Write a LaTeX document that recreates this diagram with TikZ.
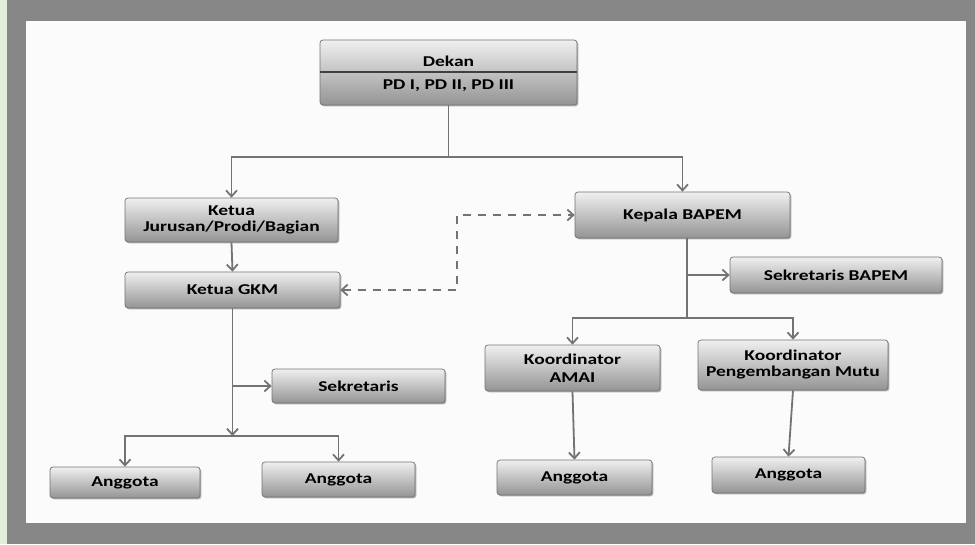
\documentclass[tikz,border=0pt]{standalone}
\usepackage{fontspec}
\newfontfamily\boxfont{Carlito}[FakeStretch=1.3]
\usetikzlibrary{arrows.meta,shadows}
\definecolor{frame}{HTML}{878787}
\definecolor{leaf}{HTML}{E2EFDA}
\definecolor{paper}{HTML}{FBFBFB}
\begin{document}
\begin{tikzpicture}[x=1pt,y=-1pt,
  box/.style={draw=black!55, line width=0.7pt, rounded corners=3pt,
    top color=black!6, bottom color=black!42, text=black,
    font=\boxfont\bfseries\fontsize{15}{17}\selectfont,
    align=center, inner sep=0pt,
    drop shadow={shadow xshift=1.4pt, shadow yshift=-1.4pt, fill=black!50, opacity=0.6}},
  lbl/.style={text=black, font=\boxfont\bfseries\fontsize{15}{17}\selectfont, inner sep=0pt},
  wire/.style={draw=black!55, line width=1.8pt},
  arr/.style={wire, -{Straight Barb[length=6pt,width=11pt]}},
  darr/.style={wire, dash pattern=on 8pt off 7pt, {Straight Barb[length=6pt,width=11pt]}-{Straight Barb[length=6pt,width=11pt]}}]

% page frame
\useasboundingbox (0,0) rectangle (975,544);
\fill[frame] (0,0) rectangle (975,544);
\fill[leaf] (0,0) rectangle (7,544);
\fill[paper] (26,21) rectangle (966,523);

% boxes
\node[box, minimum width=257pt, minimum height=65pt] (dekan) at (448.5,72.5) {};
\coordinate (divy) at (0,72);
\draw[black!75, line width=1.8pt] (dekan.west |- divy) -- (dekan.east |- divy);
\node[lbl] (dekant) at (448.5,61) {Dekan};
\node[lbl] (pdt) at (448.5,86) {PD I, PD II, PD III};

\node[box, minimum width=213pt, minimum height=44pt] (kj) at (231.5,220) {Ketua\\[-1pt]Jurusan/Prodi/Bagian};
\node[box, minimum width=215pt, minimum height=36pt] (gkm) at (232.5,290) {Ketua GKM};
\node[box, minimum width=215pt, minimum height=46pt] (kb) at (682.5,215) {Kepala BAPEM};
\node[box, minimum width=212pt, minimum height=36pt] (sb) at (836,275) {Sekretaris BAPEM};
\node[box, minimum width=173pt, minimum height=34pt] (sek) at (358.5,386) {Sekretaris};
\node[box, minimum width=150pt, minimum height=31pt] (a1) at (125,482.5) {Anggota};
\node[box, minimum width=153pt, minimum height=35pt] (a2) at (338.5,479.5) {Anggota};
\node[box, minimum width=175pt, minimum height=46pt] (ka) at (572.5,368) {Koordinator\\[1pt]AMAI};
\node[box, minimum width=190pt, minimum height=50pt] (kpm) at (793,365) {Koordinator\\[-1pt]Pengembangan Mutu};
\node[box, minimum width=155pt, minimum height=35pt] (a3) at (574.5,477.5) {Anggota};
\node[box, minimum width=153pt, minimum height=36pt] (a4) at (788.5,475) {Anggota};

% connectors
\coordinate (fork1) at (448.5,157);
\draw[wire] (dekan.south) -- (fork1);
\draw[arr] (fork1) -| (kj.north);
\draw[arr] (fork1) -| (kb.north);
\draw[arr] (kj.south) -- (gkm.north);

\coordinate (fork2) at (232.5,436);
\draw[arr] (gkm.south) -- (fork2);
\draw[arr] (gkm.south |- sek.west) -- (sek.west);
\draw[arr] (fork2) -| (a1.north);
\draw[arr] (fork2) -| (a2.north);

\coordinate (fork3) at (687,318);
\coordinate (kbfoot) at (687,238);
\draw[wire] (kbfoot) -- (fork3);
\draw[arr] (kbfoot |- sb.west) -- (sb.west);
\draw[arr] (fork3) -| (ka.north);
\draw[arr] (fork3) -| (kpm.north);
\draw[arr] (ka.south) -- (a3.north);
\draw[arr] (kpm.south) -- (a4.north);

% coordination link
\coordinate (dmid) at (457,250);
\draw[darr] (gkm.east) -| (dmid) |- (kb.west);
\end{tikzpicture}
\end{document}
